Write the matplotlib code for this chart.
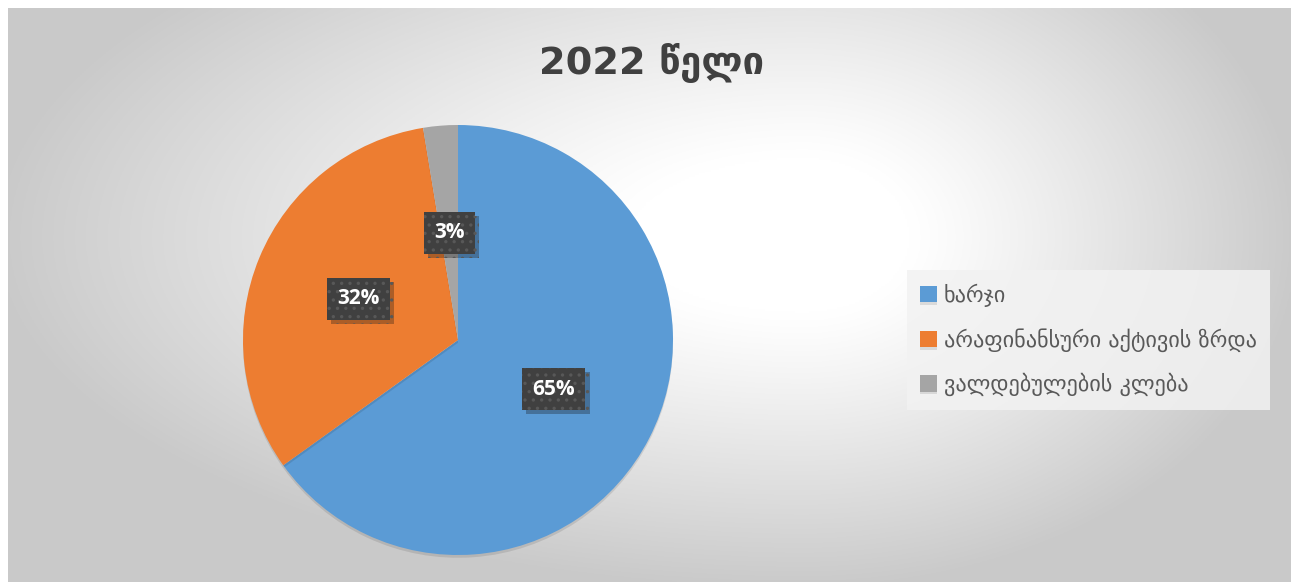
import numpy as np
import matplotlib
matplotlib.use("Agg")
import matplotlib.pyplot as plt
import matplotlib.patheffects as pe

# data
labels = ['ხარჯი', 'არაფინანსური აქტივის ზრდა', 'ვალდებულების კლება']
shares = [65.1, 32.3, 2.6]
colors = ['#5B9BD5', '#ED7D31', '#A5A5A5']
title = '2022 წელი'

W, H = 1293, 582
fig = plt.figure(figsize=(W / 100, H / 100), dpi=100, facecolor='white')

# background panel with radial gradient (white middle, grey rim)
bg = fig.add_axes([8 / W, 0, 1283 / W, 574 / H])
yy, xx = np.mgrid[0:1:300j, 0:1:640j]
gx, gy = 0.62, 0.40
dx = np.where(xx < gx, (xx - gx) / gx, (xx - gx) / (1 - gx))
dy = np.where(yy < gy, (yy - gy) / (gy * 1.6), (yy - gy) / (1 - gy))
d = np.sqrt(dx ** 2 + dy ** 2)
t = np.clip((d - 0.22) / 0.8, 0, 1)
shade = 1.0 - 0.21 * t ** 1.1
bg.imshow(np.dstack([shade] * 3), aspect='auto', extent=[0, 1, 0, 1], origin='upper')
bg.set_axis_off()

# pie
cx, cy, r = 458, 340, 215
ax = fig.add_axes([(cx - r) / W, (H - cy - r) / H, 2 * r / W, 2 * r / H])
wedges, texts, autotexts = ax.pie(
    shares, colors=colors, startangle=90, counterclock=False,
    autopct=lambda p: f'{p:.0f}%', pctdistance=0.5,
    wedgeprops=dict(linewidth=0),
    textprops=dict(color='white', fontsize=15, fontweight='bold', family='Open Sans'))
ax.set_xlim(-1, 1)
ax.set_ylim(-1, 1)
ax.set_axis_off()

for w in wedges:
    w.set_path_effects([pe.SimplePatchShadow(offset=(0, -2), shadow_rgbFace='#000000', alpha=0.10), pe.Normal()])

plt.rcParams['hatch.linewidth'] = 1.2
for t in autotexts:
    t.set_bbox(dict(boxstyle='square,pad=0.5', facecolor='#404040', edgecolor='#585858',
                    linewidth=0, hatch='..'))
    t.get_bbox_patch().set_path_effects([pe.SimplePatchShadow(offset=(3, -3), alpha=0.3), pe.Normal()])

fig.text(651 / W, 1 - 63 / H, title, ha='center', va='center', fontsize=27.5,
         fontweight='bold', color='#404040', family='DejaVu Sans')

leg = fig.legend(wedges, labels, loc='center left', bbox_to_anchor=(907 / W, 1 - 340 / H),
                 frameon=True, labelcolor='#595959', handlelength=0.75,
                 handleheight=0.75, handletextpad=0.3, labelspacing=0.95, borderpad=0.6,
                 borderaxespad=0, fancybox=False, prop=dict(family='DejaVu Sans', size=16))
leg.get_frame().set_facecolor('#f2f2f2')
leg.get_frame().set_edgecolor('none')
leg.get_frame().set_alpha(0.85)

fig.savefig('out.png', dpi=100, facecolor='white')
